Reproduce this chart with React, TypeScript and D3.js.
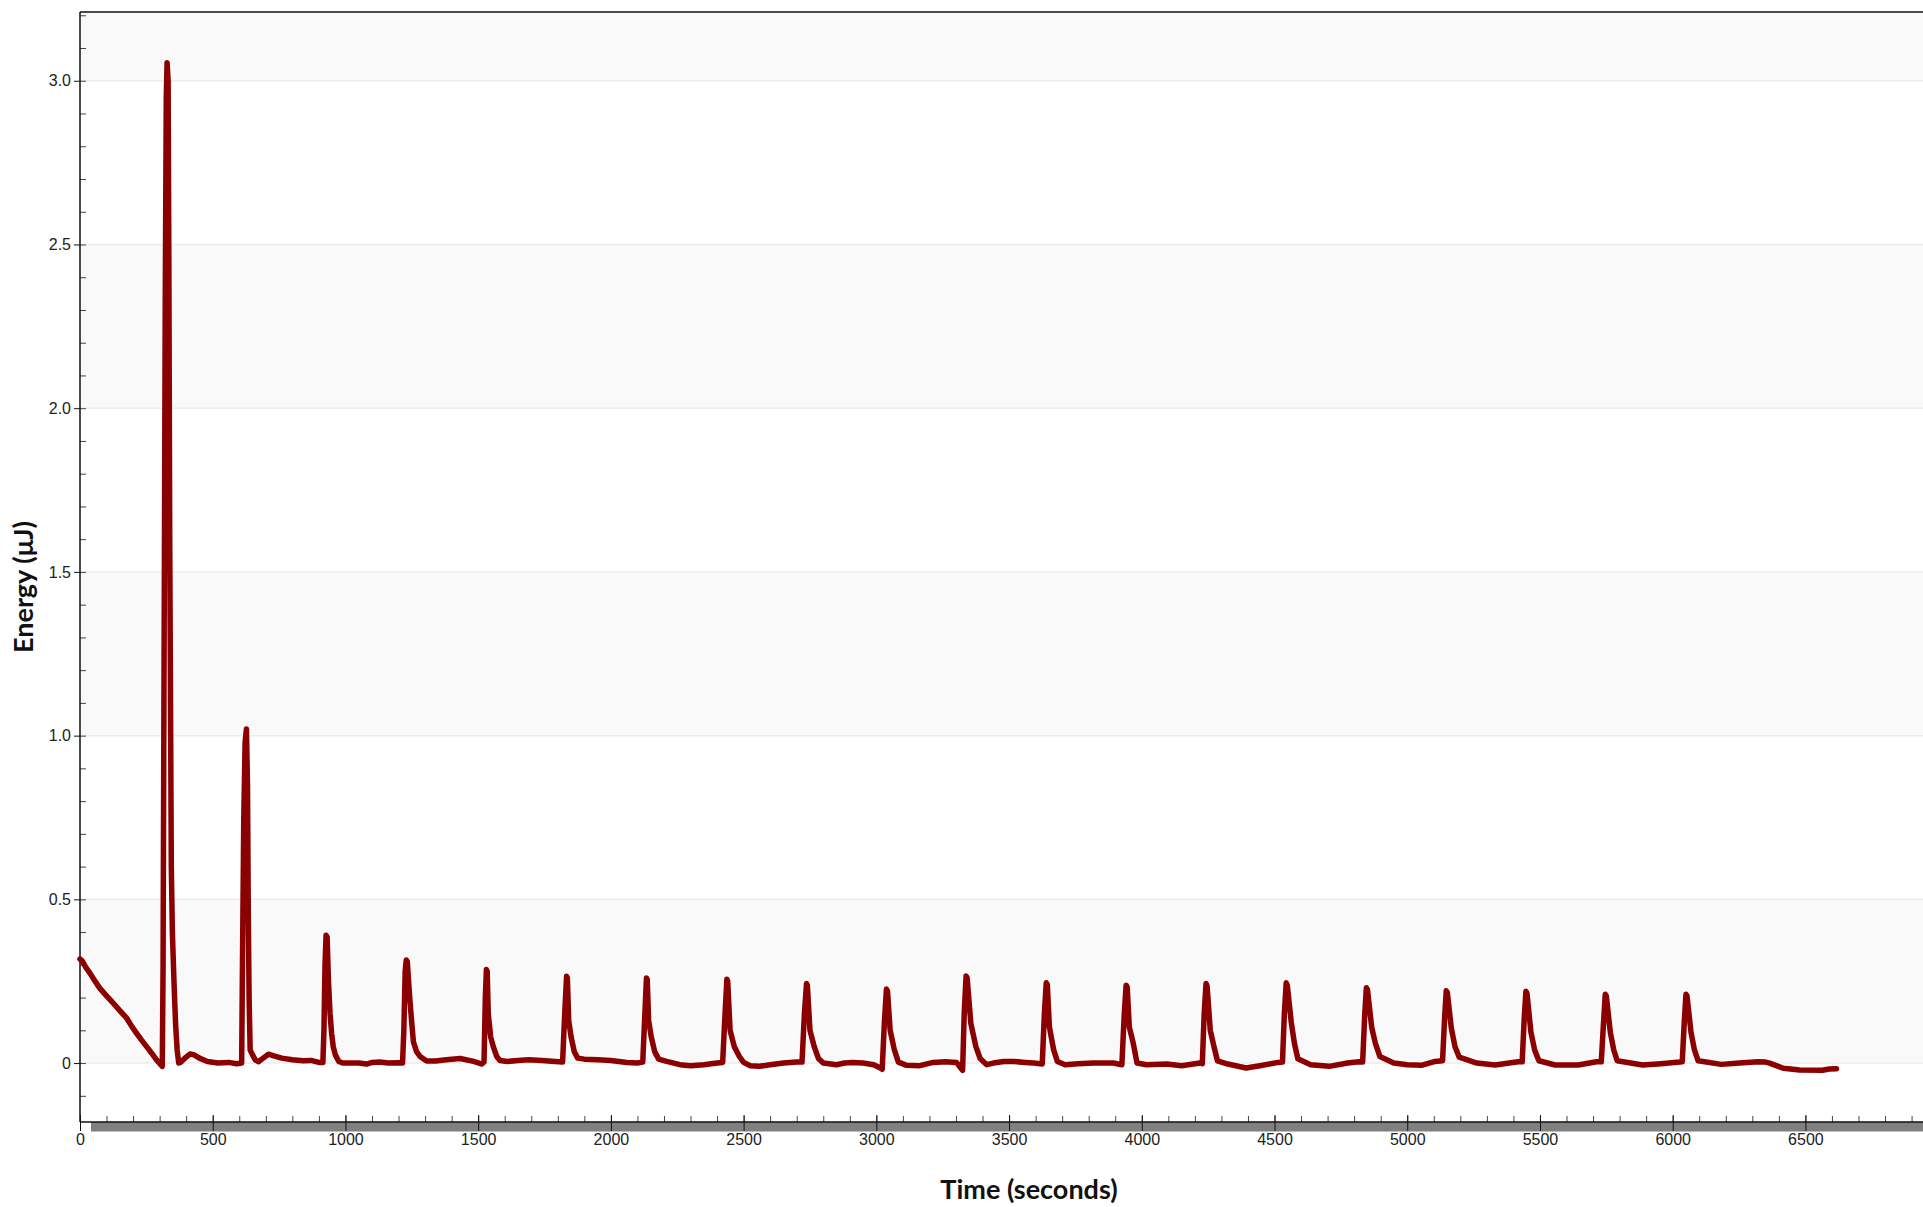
import { useEffect, useRef } from 'react';
import * as d3 from 'd3';

// [time in seconds, energy in μJ]
const readings: [number, number][] = [
  [0, 0.318], [10, 0.31], [22, 0.292], [38, 0.274], [55, 0.252], [75, 0.228], [100, 0.205], [126, 0.182],
  [150, 0.16], [176, 0.137], [195, 0.112], [214, 0.09], [232, 0.07], [251, 0.05], [270, 0.03], [289, 0.009],
  [310, -0.01],
  [313, 0.3], [317, 1.3], [321, 2.3], [325, 2.95], [328, 3.055], [332, 3.0], [335, 2.4], [338, 1.6], [341, 1.1],
  [344, 0.6], [348, 0.4], [354, 0.25], [360, 0.12], [366, 0.04], [372, 0.0], [378, 0.002], [395, 0.015],
  [415, 0.028], [430, 0.025], [450, 0.015], [480, 0.005], [520, 0.0], [560, 0.002], [590, -0.002], [609, 0.0],
  [612, 0.3], [617, 0.75], [622, 0.98], [627, 1.02], [631, 0.85], [634, 0.45], [637, 0.2], [641, 0.04],
  [650, 0.025], [660, 0.01], [672, 0.004], [690, 0.015], [710, 0.027], [730, 0.022], [760, 0.015], [800, 0.01],
  [840, 0.007], [870, 0.008], [900, 0.002], [915, 0.002],
  [919, 0.1], [923, 0.3], [927, 0.39], [931, 0.385], [936, 0.25], [942, 0.15], [948, 0.09], [954, 0.05],
  [962, 0.025], [975, 0.005], [990, 0.0], [1050, 0.0], [1080, -0.003], [1100, 0.002], [1130, 0.003],
  [1160, 0.0], [1200, 0.001], [1215, 0.0],
  [1220, 0.1], [1225, 0.28], [1229, 0.315], [1233, 0.31], [1237, 0.26], [1243, 0.19], [1250, 0.12],
  [1256, 0.065], [1268, 0.035], [1281, 0.02], [1306, 0.006], [1340, 0.006], [1380, 0.01], [1432, 0.014],
  [1483, 0.005], [1514, -0.003],
  [1522, 0.003], [1527, 0.2], [1531, 0.286], [1534, 0.28], [1538, 0.15], [1547, 0.08], [1557, 0.05],
  [1570, 0.02], [1582, 0.008], [1610, 0.005], [1650, 0.008], [1690, 0.01], [1740, 0.008], [1790, 0.005],
  [1818, 0.003],
  [1826, 0.15], [1833, 0.265], [1836, 0.26], [1841, 0.13], [1850, 0.08], [1862, 0.035], [1875, 0.015],
  [1900, 0.012], [1950, 0.01], [2000, 0.008], [2060, 0.002], [2100, 0.0], [2120, 0.003],
  [2128, 0.15], [2134, 0.26], [2137, 0.255], [2142, 0.13], [2152, 0.08], [2165, 0.035], [2180, 0.012],
  [2210, 0.005], [2260, -0.005], [2300, -0.008], [2350, -0.005], [2400, 0.0], [2421, 0.002],
  [2430, 0.15], [2437, 0.256], [2440, 0.25], [2449, 0.1], [2465, 0.05], [2484, 0.02], [2500, 0.002],
  [2525, -0.008], [2560, -0.01], [2600, -0.005], [2650, 0.0], [2700, 0.003], [2720, 0.003],
  [2729, 0.15], [2737, 0.243], [2740, 0.238], [2750, 0.1], [2766, 0.05], [2782, 0.014], [2800, 0.0],
  [2850, -0.005], [2880, 0.0], [2910, 0.002], [2950, 0.0], [2990, -0.005], [3015, -0.015], [3022, -0.019],
  [3030, 0.12], [3038, 0.226], [3042, 0.22], [3052, 0.1], [3068, 0.04], [3083, 0.003], [3114, -0.007],
  [3164, -0.008], [3214, 0.002], [3260, 0.004], [3302, 0.002], [3318, -0.015], [3325, -0.022],
  [3331, 0.15], [3338, 0.266], [3342, 0.26], [3356, 0.121], [3375, 0.05], [3391, 0.014], [3416, -0.005],
  [3441, 0.0], [3480, 0.005], [3517, 0.005], [3560, 0.002], [3592, 0.0], [3625, -0.003],
  [3633, 0.15], [3640, 0.245], [3644, 0.24], [3652, 0.11], [3668, 0.04], [3682, 0.005], [3711, -0.005],
  [3760, -0.002], [3818, 0.0], [3893, 0.0], [3925, -0.005],
  [3934, 0.15], [3941, 0.238], [3945, 0.232], [3953, 0.11], [3968, 0.06], [3982, 0.0], [4018, -0.005],
  [4094, -0.003], [4150, -0.008], [4219, 0.0], [4228, -0.002],
  [4235, 0.15], [4242, 0.243], [4246, 0.235], [4258, 0.1], [4272, 0.05], [4285, 0.007], [4324, -0.003],
  [4393, -0.015], [4445, -0.008], [4515, 0.002], [4530, 0.003],
  [4537, 0.15], [4544, 0.245], [4548, 0.238], [4563, 0.125], [4575, 0.06], [4588, 0.013], [4636, -0.005],
  [4706, -0.01], [4775, 0.0], [4818, 0.004], [4832, 0.003],
  [4840, 0.15], [4846, 0.23], [4850, 0.225], [4866, 0.11], [4880, 0.06], [4897, 0.02], [4949, 0.0],
  [5000, -0.005], [5053, -0.007], [5105, 0.005], [5133, 0.007],
  [5141, 0.14], [5147, 0.221], [5151, 0.215], [5166, 0.107], [5180, 0.05], [5196, 0.018], [5262, 0.0],
  [5331, -0.006], [5418, 0.004], [5433, 0.004],
  [5441, 0.14], [5447, 0.219], [5451, 0.213], [5466, 0.094], [5480, 0.04], [5496, 0.007], [5557, -0.006],
  [5644, -0.006], [5713, 0.004], [5731, 0.004],
  [5740, 0.13], [5746, 0.21], [5750, 0.205], [5765, 0.094], [5778, 0.04], [5791, 0.007], [5887, -0.006],
  [5956, -0.002], [6026, 0.003], [6036, 0.004],
  [6044, 0.13], [6050, 0.21], [6054, 0.205], [6069, 0.094], [6082, 0.04], [6096, 0.007], [6183, -0.004],
  [6252, 0.0], [6321, 0.004], [6350, 0.003], [6365, 0.0], [6417, -0.016], [6478, -0.021], [6564, -0.022],
  [6590, -0.018], [6617, -0.017],
];

const xDomain = [0, 6943];
const yDomain = [-0.18, 3.21];
const xMajorTicks = [0, 500, 1000, 1500, 2000, 2500, 3000, 3500, 4000, 4500, 5000, 5500, 6000, 6500];
const yMajorTicks = [0, 0.5, 1, 1.5, 2, 2.5, 3];
const yTickLabels = ['0', '0.5', '1.0', '1.5', '2.0', '2.5', '3.0'];
const shadedBands: [number, number][] = [[0, 0.5], [1, 1.5], [2, 2.5], [3, 3.21]];

const WIDTH = 1923;
const HEIGHT = 1207;

function EnergyChart() {
  const svgRef = useRef<SVGSVGElement>(null);

  useEffect(() => {
    const svg = d3.select(svgRef.current);
    svg.selectAll('*').remove();

    const left = 80;
    const top = 12;
    const bottom = 1122;

    const x = d3.scaleLinear().domain(xDomain).range([left, WIDTH]);
    const y = d3.scaleLinear().domain(yDomain).range([bottom, top]);

    // alternating background bands
    svg.selectAll('.band')
      .data(shadedBands)
      .join('rect')
      .attr('x', left)
      .attr('y', d => y(d[1]))
      .attr('width', WIDTH - left)
      .attr('height', d => y(d[0]) - y(d[1]))
      .attr('fill', '#f9f9f9');

    // grid lines
    svg.selectAll('.grid')
      .data(yMajorTicks)
      .join('line')
      .attr('x1', left)
      .attr('x2', WIDTH)
      .attr('y1', d => y(d))
      .attr('y2', d => y(d))
      .attr('stroke', '#ececec')
      .attr('stroke-width', 1.5);

    // gray bar under the x axis
    svg.append('rect')
      .attr('x', 91)
      .attr('y', bottom)
      .attr('width', WIDTH - 91)
      .attr('height', 9.5)
      .attr('fill', '#808080');

    const tickFont = "'Liberation Sans', Arial, sans-serif";

    // x minor ticks (inside)
    const xMinor = svg.append('g')
      .attr('transform', `translate(0,${bottom})`)
      .call(d3.axisTop(x).tickValues(d3.range(100, xDomain[1], 100)).tickSize(6).tickFormat(() => ''));
    xMinor.select('.domain').remove();
    xMinor.selectAll('.tick line').attr('stroke', '#444');

    // x major ticks, upward part
    const xMajorUp = svg.append('g')
      .attr('transform', `translate(0,${bottom})`)
      .call(d3.axisTop(x).tickValues(xMajorTicks).tickSize(7).tickFormat(() => ''));
    xMajorUp.select('.domain').remove();
    xMajorUp.selectAll('.tick line').attr('stroke', '#111');

    // x major ticks + labels
    const xAxis = svg.append('g')
      .attr('transform', `translate(0,${bottom})`)
      .call(d3.axisBottom(x).tickValues(xMajorTicks).tickSize(9).tickFormat(d => String(d)));
    xAxis.select('.domain').remove();
    xAxis.selectAll('.tick line').attr('stroke', '#111');
    xAxis.selectAll('text')
      .attr('font-family', tickFont)
      .attr('font-size', '16px')
      .attr('fill', '#222');

    // y minor ticks (inside)
    const yMinor = svg.append('g')
      .attr('transform', `translate(${left},0)`)
      .call(d3.axisRight(y).tickValues(d3.range(-0.1, 3.25, 0.1)).tickSize(6).tickFormat(() => ''));
    yMinor.select('.domain').remove();
    yMinor.selectAll('.tick line').attr('stroke', '#444');

    // y major ticks + labels
    const yAxis = svg.append('g')
      .attr('transform', `translate(${left},0)`)
      .call(d3.axisLeft(y).tickValues(yMajorTicks).tickSize(6)
        .tickFormat((d, i) => yTickLabels[i]));
    yAxis.select('.domain').remove();
    yAxis.selectAll('.tick line').attr('stroke', '#111');
    yAxis.selectAll('text')
      .attr('font-family', tickFont)
      .attr('font-size', '16px')
      .attr('fill', '#222');

    // frame lines
    svg.append('line')
      .attr('x1', left).attr('x2', left).attr('y1', top).attr('y2', bottom)
      .attr('stroke', '#111').attr('stroke-width', 1.5);
    svg.append('line')
      .attr('x1', left).attr('x2', WIDTH).attr('y1', top).attr('y2', top)
      .attr('stroke', '#111').attr('stroke-width', 1.5);
    svg.append('line')
      .attr('x1', left).attr('x2', WIDTH).attr('y1', bottom).attr('y2', bottom)
      .attr('stroke', '#111').attr('stroke-width', 1.5);

    // the energy trace
    const line = d3.line<[number, number]>()
      .x(d => x(d[0]))
      .y(d => y(d[1]));

    svg.append('path')
      .datum(readings)
      .attr('d', line)
      .attr('fill', 'none')
      .attr('stroke', '#8b0000')
      .attr('stroke-width', 5.5)
      .attr('stroke-linejoin', 'round')
      .attr('stroke-linecap', 'round');

    // axis titles
    svg.append('text')
      .attr('x', 1029)
      .attr('y', 1199)
      .attr('text-anchor', 'middle')
      .attr('font-family', "Lato, 'Open Sans', sans-serif")
      .attr('font-weight', 'bold')
      .attr('font-size', '27px')
      .attr('fill', '#111')
      .text('Time (seconds)');

    svg.append('text')
      .attr('transform', 'translate(33,587) rotate(-90)')
      .attr('text-anchor', 'middle')
      .attr('font-family', "Lato, 'Open Sans', sans-serif")
      .attr('font-weight', 'bold')
      .attr('font-size', '27px')
      .attr('fill', '#111')
      .text('Energy (μJ)');
  }, []);

  return (
    <svg
      ref={svgRef}
      width={WIDTH}
      height={HEIGHT}
      style={{ position: 'absolute', left: 0, top: 0, display: 'block', background: '#fff' }}
    />
  );
}

export default function App() {
  return <EnergyChart />;
}
